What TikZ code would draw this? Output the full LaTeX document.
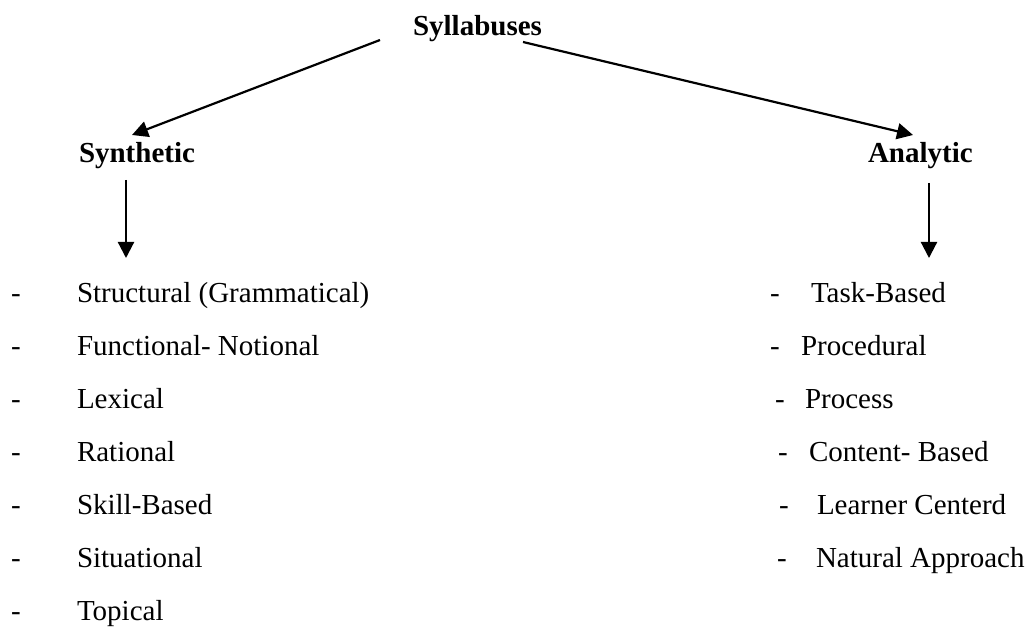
\documentclass[tikz,border=0pt]{standalone}
\usepackage{fontspec}
\setmainfont{Liberation Serif}
\usetikzlibrary{arrows.meta,positioning}

\begin{document}
\begin{tikzpicture}[
        x=1pt, y=-1pt,
        every node/.style={inner sep=0pt, outer sep=0pt, font=\fontsize{29}{35}\selectfont},
        head/.style={anchor=base west, font=\fontsize{29}{35}\selectfont\bfseries},
        item/.style={anchor=base west},
        arr/.style={-{Triangle[length=16pt,width=16pt]}, line width=2.2pt}
    ]
    \useasboundingbox (0,0) rectangle (1030,628);

    \node[head] (syl) at (413,36) {Syllabuses};
    \node[head] (syn) at (79,163) {Synthetic};
    \node[head] (ana) at (868,163) {Analytic};

    \draw[arr] ([xshift=-33pt,yshift=-4pt]syl.base west) -- ([xshift=53pt,yshift=28pt]syn.base west);
    \draw[arr] ([xshift=110pt,yshift=-6pt]syl.base west) -- ([xshift=45pt,yshift=28pt]ana.base west);

    \coordinate (synend) at (126,258);
    \coordinate (anaend) at (929,258);
    \draw[arr] ([xshift=47pt,yshift=-17pt]syn.base west) -- (synend);
    \draw[arr] ([xshift=61pt,yshift=-20pt]ana.base west) -- (anaend);

    % synthetic list
    \node[item] (sd1) at (11,302) {-};
    \node[item] (s1) at (77,302) {Structural (Grammatical)};
    \node[item] (sd2) at (11,355) {-};
    \node[item] (s2) at (77,355) {Functional- Notional};
    \node[item] (sd3) at (11,408) {-};
    \node[item] (s3) at (77,408) {Lexical};
    \node[item] (sd4) at (11,461) {-};
    \node[item] (s4) at (77,461) {Rational};
    \node[item] (sd5) at (11,514) {-};
    \node[item] (s5) at (77,514) {Skill-Based};
    \node[item] (sd6) at (11,567) {-};
    \node[item] (s6) at (77,567) {Situational};
    \node[item] (sd7) at (11,620) {-};
    \node[item] (s7) at (77,620) {Topical};

    % analytic list
    \node[item] (ad1) at (770,302) {-};
    \node[item] (a1) at (811,302) {Task-Based};
    \node[item] (ad2) at (770,355) {-};
    \node[item] (a2) at (801,355) {Procedural};
    \node[item] (ad3) at (775,408) {-};
    \node[item] (a3) at (805,408) {Process};
    \node[item] (ad4) at (778,461) {-};
    \node[item] (a4) at (809,461) {Content- Based};
    \node[item] (ad5) at (779,514) {-};
    \node[item] (a5) at (817,514) {Learner Centerd};
    \node[item] (ad6) at (777,567) {-};
    \node[item] (a6) at (816,567) {Natural Approach};
\end{tikzpicture}
\end{document}
